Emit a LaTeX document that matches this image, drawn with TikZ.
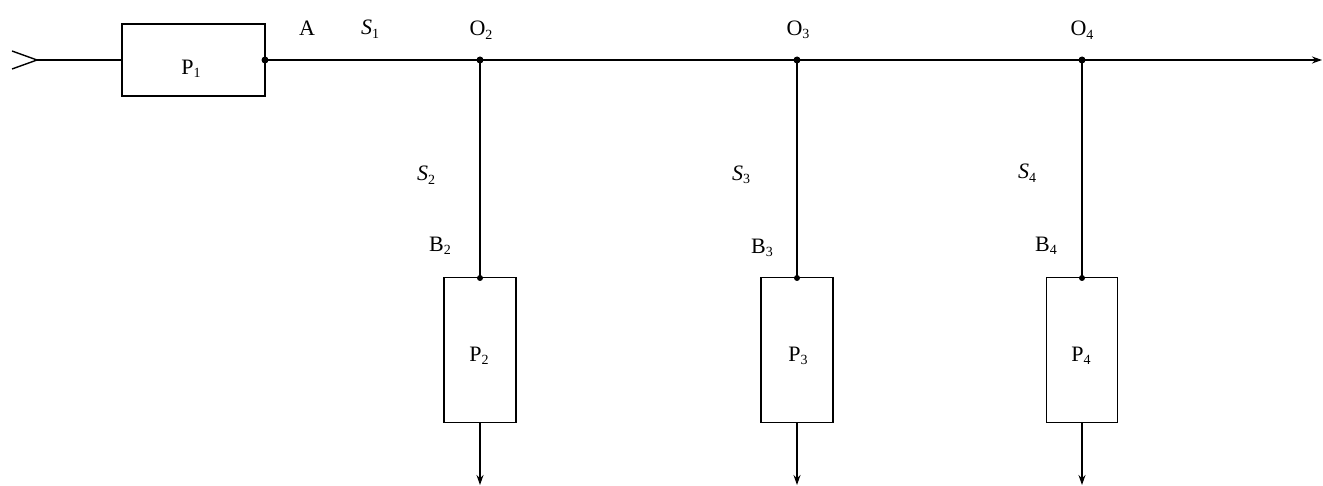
\documentclass[tikz,border=0pt]{standalone}
\usepackage{fontspec}
\setmainfont{Liberation Serif}
\usetikzlibrary{arrows.meta}
\newcommand{\lsub}[1]{\raisebox{-0.35ex}{\fontsize{14}{16}\selectfont #1}}
\begin{document}
\begin{tikzpicture}[x=1pt,y=-1pt,
  box/.style={draw,line width=1.8pt,inner sep=0pt},
  wire/.style={line width=1.4pt},
  lbl/.style={font=\fontsize{22}{24}\selectfont,inner sep=0pt},
  dot/.style={circle,fill,inner sep=0pt,minimum size=7pt},
  outarrow/.style={wire,-{Stealth[length=10pt,width=7pt]}}]
\useasboundingbox (0,0) rectangle (1323,486);
% boxes
\node[box,minimum width=143pt,minimum height=72pt] (P1) at (193.5,60) {};
\node[lbl] at (191,69) {P\lsub{1}};
\node[box,minimum width=72pt,minimum height=145pt] (P2) at (480,350) {};
\node[lbl] at (479,356) {P\lsub{2}};
\node[box,minimum width=72pt,minimum height=145pt] (P3) at (797,350) {};
\node[lbl] at (798,356) {P\lsub{3}};
\node[box,minimum width=71pt,minimum height=145pt] (P4) at (1082,350) {};
\node[lbl] at (1081,356) {P\lsub{4}};
% junctions
\node[dot] (A) at (265,60) {};
\node[dot] (O2) at (480,60) {};
\node[dot] (O3) at (797,60) {};
\node[dot] (O4) at (1082,60) {};
\node[dot,minimum size=6pt] (B2) at (480,278) {};
\node[dot,minimum size=6pt] (B3) at (797,278) {};
\node[dot,minimum size=6pt] (B4) at (1082,278) {};
\coordinate (in) at (37,60);
\coordinate (out) at (1322,60);
\coordinate (o2) at (480,485);
\coordinate (o3) at (797,485);
\coordinate (o4) at (1082,485);
% input barb
\draw[wire] (in) ++(-25,-9) -- (in) -- ++(-25,9);
\draw[wire] (in) -- (P1.west);
% main line
\draw[outarrow] (A.center) -- (out);
% branches
\draw[wire] (O2.center) -- (B2.center);
\draw[wire] (O3.center) -- (B3.center);
\draw[wire] (O4.center) -- (B4.center);
\draw[outarrow] (P2.south) -- (o2);
\draw[outarrow] (P3.south) -- (o3);
\draw[outarrow] (P4.south) -- (o4);
% labels
\node[lbl] at (307,28) {A};
\node[lbl] at (370,29) {\textit{S}\lsub{1}};
\node[lbl] at (481,30) {O\lsub{2}};
\node[lbl] at (798,30) {O\lsub{3}};
\node[lbl] at (1082,30) {O\lsub{4}};
\node[lbl] at (426,175) {\textit{S}\lsub{2}};
\node[lbl] at (741,175) {\textit{S}\lsub{3}};
\node[lbl] at (1027,173) {\textit{S}\lsub{4}};
\node[lbl] at (440,246) {B\lsub{2}};
\node[lbl] at (762,248) {B\lsub{3}};
\node[lbl] at (1046,246) {B\lsub{4}};
\end{tikzpicture}
\end{document}
